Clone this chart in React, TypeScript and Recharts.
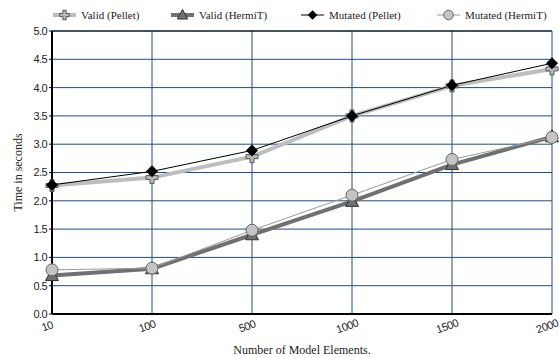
import { LineChart, Line, XAxis, YAxis, CartesianGrid, ReferenceLine, Label } from 'recharts';

const elements = ['10', '100', '500', '1000', '1500', '2000'];
const validPellet = [2.27, 2.41, 2.78, 3.5, 4.03, 4.33];
const validHermit = [0.68, 0.8, 1.4, 1.99, 2.64, 3.13];
const mutatedPellet = [2.28, 2.52, 2.89, 3.5, 4.04, 4.43];
const mutatedHermit = [0.78, 0.81, 1.48, 2.1, 2.73, 3.12];
const yTicks = [0, 0.5, 1, 1.5, 2, 2.5, 3, 3.5, 4, 4.5, 5];

const data = elements.map((e, i) => ({
  n: e,
  validPellet: validPellet[i],
  validHermit: validHermit[i],
  mutatedPellet: mutatedPellet[i],
  mutatedHermit: mutatedHermit[i],
}));

const serif = '"Liberation Serif", "DejaVu Serif", serif';
const sans = '"Liberation Sans", "DejaVu Sans", sans-serif';
const gridColor = '#1f4c80';

const PlusDot = ({ cx, cy, s = 1 }: any) => (
  <path
    transform={`translate(${cx},${cy}) scale(${s})`}
    d="M-2,-6h4v4h4v4h-4v4h-4v-4h-4v-4h4z"
    fill="#b8b8b8"
    stroke="#555"
    strokeWidth={1 / s}
  />
);
const TriDot = ({ cx, cy, s = 1 }: any) => (
  <path transform={`translate(${cx},${cy}) scale(${s})`} d="M0,-7L6.5,5L-6.5,5Z" fill="#707070" stroke="#333" strokeWidth={1 / s} />
);
const DiamondDot = ({ cx, cy, s = 1 }: any) => (
  <path transform={`translate(${cx},${cy}) scale(${s})`} d="M0,-6L6,0L0,6L-6,0Z" fill="#000" />
);
const CircleDot = ({ cx, cy, s = 1 }: any) => (
  <circle cx={cx} cy={cy} r={6 * s} fill="#c4c4c4" stroke="#666" strokeWidth={1} />
);

const legendItems = [
  { name: 'Valid (Pellet)', color: '#bdbdbd', width: 4, Dot: PlusDot },
  { name: 'Valid (HermiT)', color: '#707070', width: 4, Dot: TriDot },
  { name: 'Mutated (Pellet)', color: '#000', width: 1, Dot: DiamondDot },
  { name: 'Mutated (HermiT)', color: '#9a9a9a', width: 1, Dot: CircleDot },
];
const legendX = [53, 171, 301, 437];

const ChartLegend = () => (
  <svg width={559} height={26} style={{ position: 'absolute', left: 0, top: 0 }}>
    {legendItems.map((it, i) => {
      const x = legendX[i];
      return (
        <g key={it.name}>
          <line x1={x} x2={x + 23} y1={15} y2={15} stroke={it.color} strokeWidth={it.width} />
          <it.Dot cx={x + 11.5} cy={15} s={0.8} />
          <text x={x + 28} y={19} fontFamily={serif} fontSize={11} fill="#222">
            {it.name}
          </text>
        </g>
      );
    })}
  </svg>
);

const XTick = ({ x, y, payload }: any) => (
  <g transform={`translate(${x},${y})`}>
    <text x={-6} y={6} textAnchor="middle" transform="rotate(-20)" fontFamily={sans} fontSize={11} letterSpacing={-0.5} fill="#222">
      {payload.value}
    </text>
  </g>
);

export default function App() {
  return (
    <div style={{ position: 'absolute', left: 0, top: 0, width: 559, height: 358, background: '#fff' }}>
      <LineChart width={559} height={358} data={data} margin={{ top: 31, right: 7, bottom: 0, left: 0 }}>
        <CartesianGrid stroke={gridColor} strokeWidth={1} />
        <XAxis
          dataKey="n"
          tick={<XTick />}
          tickLine={false}
          axisLine={{ stroke: '#000', strokeWidth: 2 }}
          height={44}
          interval={0}
        >
          <Label value="Number of Model Elements." position="insideBottom" offset={4} style={{ fontFamily: serif, fontSize: 12, fill: '#222' }} />
        </XAxis>
        <YAxis
          domain={[0, 5]}
          ticks={yTicks}
          tickFormatter={(v: number) => v.toFixed(1)}
          width={52}
          tick={{ fontFamily: sans, fontSize: 11, fill: '#222', letterSpacing: -0.6 }}
          tickLine={{ stroke: '#000' }}
          tickSize={3}
          axisLine={{ stroke: '#000', strokeWidth: 2 }}
        >
          <Label value="Time in seconds" angle={-90} position="insideLeft" offset={18} style={{ fontFamily: serif, fontSize: 12, fill: '#222', textAnchor: 'middle' }} />
        </YAxis>
        <ReferenceLine y={5} stroke="#000" strokeWidth={1} />
        <Line dataKey="validPellet" name="Valid (Pellet)" stroke="#bdbdbd" strokeWidth={4} dot={<PlusDot />} isAnimationActive={false} />
        <Line dataKey="validHermit" name="Valid (HermiT)" stroke="#707070" strokeWidth={4} dot={<TriDot />} isAnimationActive={false} />
        <Line dataKey="mutatedPellet" name="Mutated (Pellet)" stroke="#000" strokeWidth={1} dot={<DiamondDot />} isAnimationActive={false} />
        <Line dataKey="mutatedHermit" name="Mutated (HermiT)" stroke="#9a9a9a" strokeWidth={1} dot={<CircleDot />} isAnimationActive={false} />
      </LineChart>
      <ChartLegend />
    </div>
  );
}
